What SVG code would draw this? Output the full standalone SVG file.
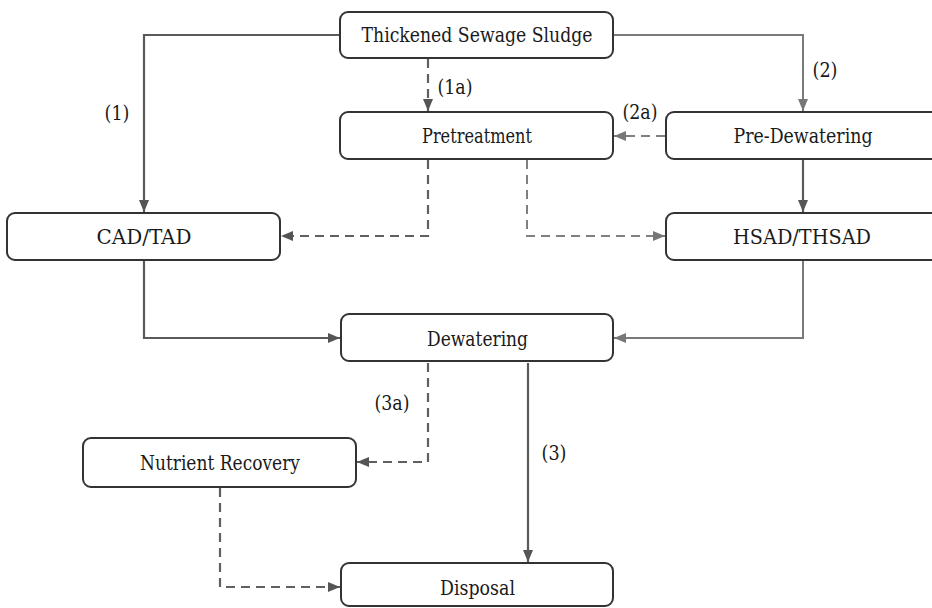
<svg xmlns="http://www.w3.org/2000/svg" width="932" height="608" viewBox="0 0 932 608">
  <style>
    .box { fill: #ffffff; stroke: #333333; stroke-width: 2; }
    .lbl { font-size: 21px; fill: #1a1a1a; text-anchor: middle; dominant-baseline: central; }
    .tag { font-size: 20.5px; fill: #1a1a1a; text-anchor: middle; dominant-baseline: central; }
    .solid { fill: none; stroke: #5a5a5a; stroke-width: 2.2; }
    .light { fill: none; stroke: #7a7a7a; stroke-width: 2; }
    .dash { fill: none; stroke: #606060; stroke-width: 2.2; stroke-dasharray: 9 6; }
    .dashlight { fill: none; stroke: #808080; stroke-width: 2; stroke-dasharray: 9 6; }
  </style>
  <defs>
    <marker id="ah" viewBox="0 0 12 10" refX="12" refY="5" markerWidth="12" markerHeight="10" markerUnits="userSpaceOnUse" orient="auto">
      <path d="M0,0 L12,5 L0,10 z" fill="#555555"/>
    </marker>
    <marker id="ahl" viewBox="0 0 12 10" refX="12" refY="5" markerWidth="12" markerHeight="10" markerUnits="userSpaceOnUse" orient="auto">
      <path d="M0,0 L12,5 L0,10 z" fill="#777777"/>
    </marker>
  </defs>

  <rect width="932" height="608" fill="#ffffff"/>

  <g font-family="DejaVu Serif, serif">
  <!-- connectors -->
  <g id="connectors">
    <!-- (1) sludge to CAD/TAD -->
    <path class="solid" d="M340,35 H144 V212" marker-end="url(#ah)"/>
    <!-- (1a) sludge to pretreatment -->
    <path class="dash" d="M428,59 V111" marker-end="url(#ah)"/>
    <!-- (2) sludge to pre-dewatering -->
    <path class="light" d="M613,35 H803 V111" marker-end="url(#ahl)"/>
    <!-- (2a) pre-dewatering to pretreatment -->
    <path class="dashlight" d="M665,136 H614" marker-end="url(#ahl)"/>
    <!-- pretreatment to CAD/TAD -->
    <path class="dash" d="M428,160 V236 H281" marker-end="url(#ah)"/>
    <!-- pretreatment to HSAD/THSAD -->
    <path class="dashlight" d="M527,160 V236 H665" marker-end="url(#ahl)"/>
    <!-- pre-dewatering to HSAD/THSAD -->
    <path class="solid" d="M803,160 V212" marker-end="url(#ah)"/>
    <!-- CAD/TAD to dewatering -->
    <path class="solid" d="M144,261 V338 H340" marker-end="url(#ah)"/>
    <!-- HSAD/THSAD to dewatering -->
    <path class="light" d="M803,261 V338 H614" marker-end="url(#ahl)"/>
    <!-- (3a) dewatering to nutrient recovery -->
    <path class="dash" d="M428,363 V462 H357" marker-end="url(#ah)"/>
    <!-- (3) dewatering to disposal -->
    <path class="solid" d="M528,363 V562" marker-end="url(#ah)"/>
    <!-- nutrient recovery to disposal -->
    <path class="dash" d="M220,488 V587 H340" marker-end="url(#ah)"/>

    <text class="tag" x="117" y="113" textLength="25" lengthAdjust="spacingAndGlyphs">(1)</text>
    <text class="tag" x="455" y="87" textLength="35" lengthAdjust="spacingAndGlyphs">(1a)</text>
    <text class="tag" x="825" y="70" textLength="25" lengthAdjust="spacingAndGlyphs">(2)</text>
    <text class="tag" x="640" y="112" textLength="35" lengthAdjust="spacingAndGlyphs">(2a)</text>
    <text class="tag" x="392" y="403" textLength="35" lengthAdjust="spacingAndGlyphs">(3a)</text>
    <text class="tag" x="554" y="453" textLength="25" lengthAdjust="spacingAndGlyphs">(3)</text>
  </g>

  <g id="sludge">
    <rect class="box" x="340" y="12" width="273" height="46" rx="8"/>
    <text class="lbl" x="477" y="35" textLength="231" lengthAdjust="spacingAndGlyphs">Thickened Sewage Sludge</text>
  </g>
  <g id="pretreatment">
    <rect class="box" x="340" y="112" width="273" height="47" rx="8"/>
    <text class="lbl" x="477" y="136" textLength="110" lengthAdjust="spacingAndGlyphs">Pretreatment</text>
  </g>
  <g id="predewatering">
    <rect class="box" x="666" y="112" width="274" height="47" rx="8"/>
    <text class="lbl" x="803" y="136" textLength="139" lengthAdjust="spacingAndGlyphs">Pre-Dewatering</text>
  </g>
  <g id="cadtad">
    <rect class="box" x="7" y="213" width="273" height="47" rx="8"/>
    <text class="lbl" x="144" y="237" textLength="95" lengthAdjust="spacingAndGlyphs">CAD/TAD</text>
  </g>
  <g id="hsad">
    <rect class="box" x="666" y="213" width="274" height="47" rx="8"/>
    <text class="lbl" x="802" y="237" textLength="138" lengthAdjust="spacingAndGlyphs">HSAD/THSAD</text>
  </g>
  <g id="dewatering">
    <rect class="box" x="341" y="314" width="272" height="47" rx="8"/>
    <text class="lbl" x="477.5" y="339" textLength="101" lengthAdjust="spacingAndGlyphs">Dewatering</text>
  </g>
  <g id="nutrient">
    <rect class="box" x="83" y="438" width="273" height="49" rx="8"/>
    <text class="lbl" x="220" y="463" textLength="160" lengthAdjust="spacingAndGlyphs">Nutrient Recovery</text>
  </g>
  <g id="disposal">
    <rect class="box" x="341" y="563" width="272" height="43" rx="8"/>
    <text class="lbl" x="477.5" y="588" textLength="75" lengthAdjust="spacingAndGlyphs">Disposal</text>
  </g>
  </g>
</svg>
